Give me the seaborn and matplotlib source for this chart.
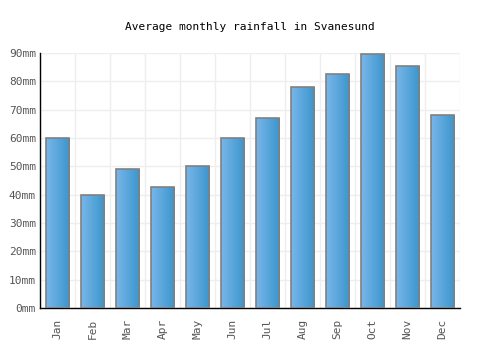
import numpy as np
import pandas as pd
import matplotlib
matplotlib.use("Agg")
import matplotlib.pyplot as plt
import seaborn as sns
from matplotlib.colors import LinearSegmentedColormap

months = ["Jan", "Feb", "Mar", "Apr", "May", "Jun", "Jul", "Aug", "Sep", "Oct", "Nov", "Dec"]
rainfall = [60, 40, 49, 42.7, 50, 60, 67, 78, 82.5, 89.5, 85.3, 68]
yticks = [0, 10, 20, 30, 40, 50, 60, 70, 80, 90]

sns.set_style("white")
plt.rcParams['font.family'] = ['DejaVu Sans Mono']

df = pd.DataFrame({"month": months, "rain": rainfall})
fig = plt.figure(figsize=(5, 3.5), dpi=100)
ax = fig.add_axes([0.08, 0.12, 0.84, 0.7286])
sns.barplot(data=df, x="month", y="rain", ax=ax, color="#4a9fdb", width=0.67,
            edgecolor="#808080", linewidth=1.2, zorder=3)

cmap = LinearSegmentedColormap.from_list("g", ["#78b6ea", "#3a96cc"])
grad = np.linspace(0, 1, 64).reshape(1, -1)
for p in ax.patches:
    x0, y0 = p.get_x(), p.get_y()
    w, h = p.get_width(), p.get_height()
    im = ax.imshow(grad, extent=[x0, x0 + w, y0, y0 + h], aspect="auto",
                   cmap=cmap, zorder=3.5, interpolation="bicubic")
    im.set_clip_path(p)
    p.set_facecolor("none")
    p.set_zorder(4)

ax.set_xlim(-0.5, 11.5)
ax.set_ylim(0, 90)
ax.set_yticks(yticks)
ax.set_yticklabels([f"{v}mm" for v in yticks])
ax.set_xticks(np.arange(-0.5, 12, 1), minor=True)
ax.grid(False)
ax.grid(True, which="minor", axis="x", color="#eeeeee", linewidth=1, zorder=0)
ax.grid(True, which="major", axis="y", color="#eeeeee", linewidth=1, zorder=0)
ax.set_axisbelow(True)
ax.set_xlabel("")
ax.set_ylabel("")
ax.tick_params(axis="x", which="both", length=0, labelsize=8, labelcolor="#555555", rotation=90, pad=8)
ax.tick_params(axis="y", length=0, labelsize=8, labelcolor="#555555", pad=3)
for s in ["top", "right"]:
    ax.spines[s].set_visible(False)
ax.spines["left"].set_color("black")
ax.spines["bottom"].set_color("black")
ax.spines["left"].set_linewidth(1)
ax.spines["bottom"].set_linewidth(1)

fig.text(0.5, 0.923, "Average monthly rainfall in Svanesund", ha="center", va="center",
         fontsize=8, color="black")
fig.savefig("out.png", dpi=100)
